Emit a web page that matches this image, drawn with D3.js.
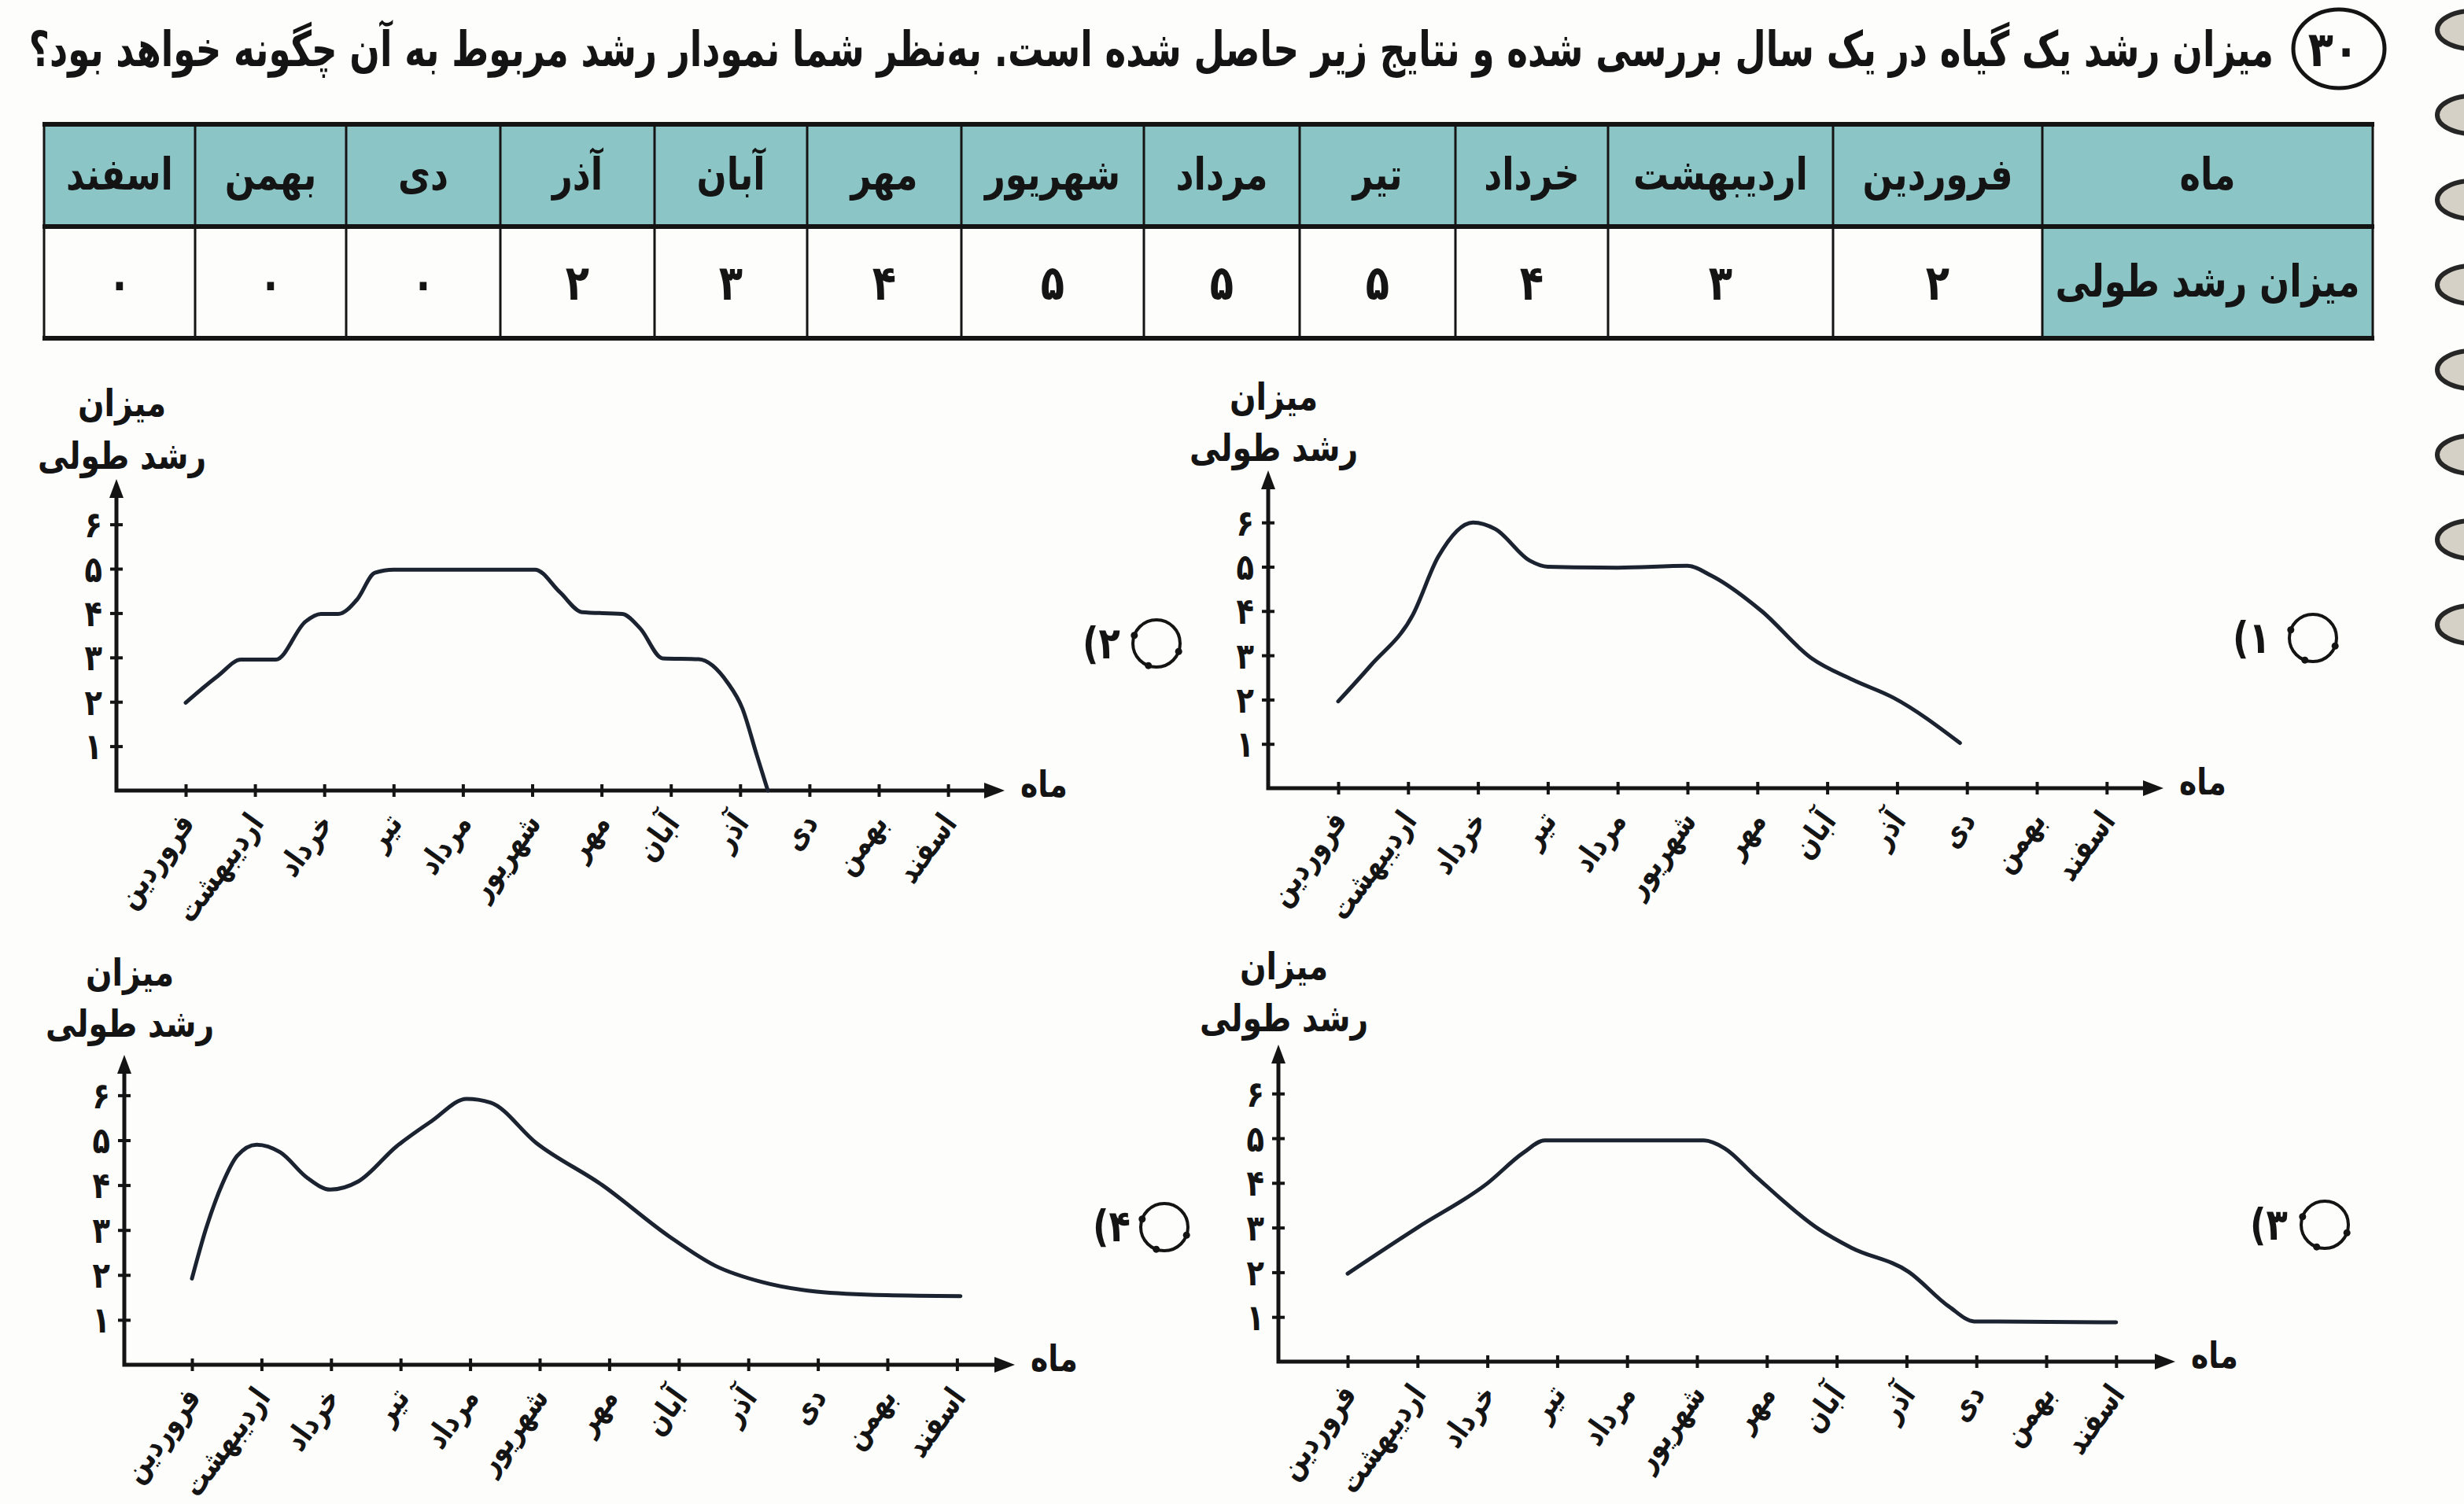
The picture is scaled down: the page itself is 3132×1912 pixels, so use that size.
<!DOCTYPE html>
<html><head><meta charset="utf-8">
<script src="https://cdn.jsdelivr.net/npm/d3@7"></script>
<style>
body{margin:0;background:#fff}
svg{display:block}
text{font-family:"DejaVu Sans","Noto Sans",sans-serif;font-weight:bold;fill:#141414}
</style>
</head><body>
<svg id="c" width="3132" height="1912"></svg>
<script>
// ---------------- DATA ----------------
const questionNumber = 30;
const questionText = "میزان رشد یک گیاه در یک سال بررسی شده و نتایج زیر حاصل شده است. به‌نظر شما نمودار رشد مربوط به آن چگونه خواهد بود؟";
const months = ["فروردین","اردیبهشت","خرداد","تیر","مرداد","شهریور","مهر","آبان","آذر","دی","بهمن","اسفند"];
const growth = [2,3,4,5,5,5,4,3,2,0,0,0];
const rowHeader = "ماه";
const rowLabel = "میزان رشد طولی";
const yTicks = [1,2,3,4,5,6];
const yTitleLines = ["میزان","رشد طولی"];
const xTitle = "ماه";
const optionNumbers = [1,2,3,4];
// series: [month index, growth value]
const option1 = [[0,1.96],[0.47,2.78],[1.07,3.92],[1.43,5.22],[1.93,6],[2.25,5.85],[2.74,5.14],[3.0,5],[4.0,4.98],[5.0,5.02],[5.34,4.8],[6.06,4],[6.77,2.94],[7.36,2.45],[7.95,2.04],[8.9,1.02]];
const option2 = [[0,1.98],[0.47,2.59],[0.8,2.95],[1.3,2.95],[1.73,3.81],[1.95,3.98],[2.2,3.98],[2.47,4.3],[2.73,4.91],[3,4.98],[5.04,4.98],[5.4,4.47],[5.72,4.02],[6.3,3.98],[6.56,3.65],[6.88,2.98],[7.4,2.96],[7.82,2.43],[8.03,1.86],[8.24,0.8],[8.4,0]];
const option3 = [[0,1.97],[1,3],[2,3.99],[2.52,4.68],[2.82,4.95],[5.1,4.95],[5.4,4.77],[5.81,4.19],[6.75,2.96],[7.21,2.55],[8.03,2.01],[8.61,1.23],[8.97,0.9],[11,0.88]];
const option4 = [[0,1.92],[0.2,3.02],[0.43,4],[0.65,4.65],[0.93,4.9],[1.27,4.73],[1.66,4.16],[1.99,3.9],[2.39,4.08],[2.94,4.86],[3.45,5.43],[3.95,5.92],[4.29,5.84],[4.95,4.94],[5.9,4],[6.86,2.86],[7.53,2.2],[8.2,1.84],[8.98,1.63],[9.99,1.55],[11.05,1.53]];
const optionSeries = [option1, option2, option3, option4];

// ---------------- LAYOUT ----------------
const fa = n => String(n).replace(/\d/g, d => "۰۱۲۳۴۵۶۷۸۹"[d]);
const INK = "#141414", CURVE = "#1b2230", TEAL = "#8cc5c5";
const svg = d3.select("#c");
svg.append("rect").attr("width",3132).attr("height",1912).attr("fill","#fdfdfc");

// condensed text helper: taller glyphs, compressed horizontally
function txt(g, x, y, str, size, sx, anchor){
  return g.append("text").attr("transform",`translate(${x},${y}) scale(${sx},1)`)
    .attr("text-anchor",anchor||"middle").attr("font-size",size).text(str);
}

// binding rings (photo decoration)
svg.append("g").selectAll("ellipse").data(d3.range(8)).join("ellipse")
  .attr("cx",3142).attr("cy",i=>38+i*108).attr("rx",44).attr("ry",24)
  .attr("fill","#d6d1c6").attr("stroke","#262626").attr("stroke-width",6);

// Title
const title = svg.append("text").attr("x",2890).attr("y",84).attr("text-anchor","end")
  .attr("font-size",62).text(questionText);
(function fit(sel, w, ax){
  const L = sel.node().getComputedTextLength();
  const s = w / L;
  sel.attr("transform",`translate(${ax},0) scale(${s},1) translate(${-ax},0)`);
})(title, 2854, 2890);
svg.append("ellipse").attr("cx",2973).attr("cy",62).attr("rx",58).attr("ry",50)
  .attr("fill","none").attr("stroke",INK).attr("stroke-width",5);
txt(svg, 2966, 84, fa(questionNumber), 62, 0.85);

// Table
const colWidths = [266,286,194,198,198,232,196,194,196,196,192,192];
const labelW = 420, tableRight = 3016, rowY = [158,288,430];
const colRight = [];
let xr = tableRight - labelW;
colWidths.forEach(w => { colRight.push(xr); xr -= w; });
const tableLeft = xr;
const tg = svg.append("g");
tg.append("rect").attr("x",tableLeft).attr("y",rowY[0]).attr("width",tableRight-tableLeft).attr("height",rowY[1]-rowY[0]).attr("fill",TEAL);
tg.append("rect").attr("x",tableRight-labelW).attr("y",rowY[1]).attr("width",labelW).attr("height",rowY[2]-rowY[1]).attr("fill",TEAL);
const vx = [tableLeft, ...colRight, tableRight];
tg.selectAll("line.v").data(vx).join("line").attr("class","v")
  .attr("x1",d=>d).attr("x2",d=>d).attr("y1",rowY[0]).attr("y2",rowY[2])
  .attr("stroke",INK).attr("stroke-width",3);
tg.selectAll("line.h").data(rowY).join("line").attr("class","h")
  .attr("x1",tableLeft-2).attr("x2",tableRight+2).attr("y1",d=>d).attr("y2",d=>d)
  .attr("stroke",INK).attr("stroke-width",6);
const hy = (rowY[0]+rowY[1])/2, vy = (rowY[1]+rowY[2])/2;
txt(tg, tableRight-labelW/2, hy+18, rowHeader, 56, 0.8);
txt(tg, tableRight-labelW/2, vy+18, rowLabel, 56, 0.8);
months.forEach((m,i)=> txt(tg, colRight[i]-colWidths[i]/2, hy+18, m, 56, 0.8));
growth.forEach((v,i)=> txt(tg, colRight[i]-colWidths[i]/2, vy+22, fa(v), 62, 0.8));

// Panels
const panels = [
  {x0:1612, y0:1002, xFirst:1701, xStep:88.8, yStep:56.3, yTop:598, xEnd:2750, titleY:[505,570], tX:2862, tY:812, cX:2940, cY:811},
  {x0:148,  y0:1005, xFirst:236,  xStep:88.1, yStep:56.4, yTop:609, xEnd:1277, titleY:[513,580], tX:1400, tY:819, cX:1470, cY:818},
  {x0:1625, y0:1731, xFirst:1713, xStep:88.8, yStep:56.8, yTop:1328, xEnd:2765, titleY:[1229,1295], tX:2884, tY:1558, cX:2955, cY:1557},
  {x0:158,  y0:1735, xFirst:244,  xStep:88.4, yStep:57.1, yTop:1341, xEnd:1290, titleY:[1237,1302], tX:1413, tY:1560, cX:1480, cY:1560}
];

panels.forEach((p, k) => {
  const g = svg.append("g");
  const x = d3.scaleLinear().domain([0, months.length-1]).range([p.xFirst, p.xFirst + p.xStep*(months.length-1)]);
  const y = d3.scaleLinear().domain([0, 6]).range([p.y0, p.y0 - 6*p.yStep]);

  g.append("path").attr("d",`M${p.x0},${p.yTop+14} L${p.x0},${p.y0} L${p.xEnd-14},${p.y0}`)
    .attr("fill","none").attr("stroke",INK).attr("stroke-width",5).attr("stroke-linejoin","miter");
  g.append("path").attr("d",`M${p.x0},${p.yTop} L${p.x0-9},${p.yTop+24} L${p.x0+9},${p.yTop+24}Z`).attr("fill",INK);
  g.append("path").attr("d",`M${p.xEnd},${p.y0} L${p.xEnd-26},${p.y0-10} L${p.xEnd-26},${p.y0+10}Z`).attr("fill",INK);

  const xa = d3.axisBottom(x).tickValues(d3.range(months.length)).tickSize(0).tickFormat(i=>months[i]);
  const xg = g.append("g").attr("transform",`translate(0,${p.y0})`).call(xa);
  xg.select(".domain").remove();
  xg.selectAll(".tick line").attr("y1",-8).attr("y2",8).attr("stroke",INK).attr("stroke-width",4);
  xg.selectAll(".tick text").attr("fill",INK).attr("font-size",40)
    .attr("text-anchor","end").attr("y",0).attr("dy",0)
    .attr("transform","translate(12,42) rotate(-54) scale(0.8,1)");

  const ya = d3.axisLeft(y).tickValues(yTicks).tickSize(0).tickFormat(fa);
  const yg = g.append("g").attr("transform",`translate(${p.x0},0)`).call(ya);
  yg.select(".domain").remove();
  yg.selectAll(".tick line").attr("x1",-8).attr("x2",8).attr("stroke",INK).attr("stroke-width",4);
  yg.selectAll(".tick text").attr("fill",INK).attr("font-size",46).attr("x",0).attr("dy",0)
    .attr("text-anchor","end").attr("transform","translate(-18,16) scale(0.8,1)");

  yTitleLines.forEach((s,i)=> txt(g, p.x0+7, p.titleY[i]+16, s, 48, 0.82));
  txt(g, p.xEnd+50, p.y0+8, xTitle, 46, 0.82);

  const line = d3.line().x(d=>x(d[0])).y(d=>y(d[1])).curve(d3.curveMonotoneX);
  g.append("path").datum(optionSeries[k]).attr("d",line)
    .attr("fill","none").attr("stroke",CURVE).attr("stroke-width",5).attr("stroke-linecap","round");

  txt(g, p.tX, p.tY+18, "(" + fa(optionNumbers[k]), 56, 0.8);
  g.append("circle").attr("cx",p.cX).attr("cy",p.cY).attr("r",30).attr("fill","none").attr("stroke",INK).attr("stroke-width",4);
  g.selectAll("circle.dot").data([200,20,110]).join("circle").attr("class","dot")
    .attr("cx",a=>p.cX+30*Math.cos(a*Math.PI/180)).attr("cy",a=>p.cY+30*Math.sin(a*Math.PI/180))
    .attr("r",4.5).attr("fill",INK);
});
</script>
</body></html>
